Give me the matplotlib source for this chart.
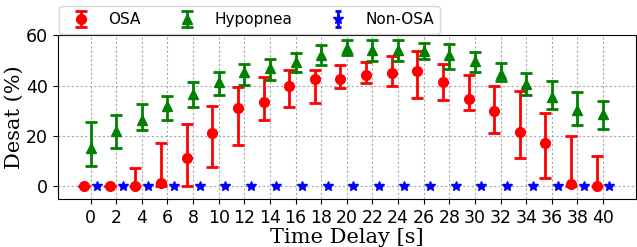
import numpy as np
import matplotlib
matplotlib.use('Agg')
import matplotlib.pyplot as plt

delays = np.arange(0, 42, 2)

osa_mean = [0, 0, 0, 1.3, 11.3, 21.3, 30.9, 33.3, 40.0, 42.7, 42.7,
            44.0, 45.0, 45.6, 41.6, 34.7, 29.9, 21.7, 17.1, 0.9, 0.3]
osa_low = [0, 0, 0, 0, 0, 7.9, 16.5, 26.3, 31.5, 32.9, 39.2,
           41.0, 39.9, 34.9, 34.4, 30.4, 21.2, 11.3, 3.3, 0, 0]
osa_high = [0, 0, 7.3, 17.3, 24.8, 32.0, 39.3, 43.3, 46.3, 46.3, 48.0,
            49.2, 51.7, 53.6, 48.7, 44.0, 40.0, 38.0, 29.1, 19.9, 12.0]

hyp_mean = [15.3, 22.0, 26.4, 32.0, 36.7, 41.3, 45.3, 46.9, 49.3, 52.0, 54.7,
            54.0, 54.0, 53.6, 52.0, 49.7, 44.7, 40.7, 35.3, 30.3, 28.7]
hyp_low = [8.0, 15.3, 22.3, 26.3, 31.6, 36.4, 40.4, 42.3, 45.3, 48.0, 52.0,
           49.7, 49.9, 50.4, 46.7, 45.2, 41.9, 36.4, 30.7, 24.4, 22.9]
hyp_high = [25.6, 28.3, 32.7, 36.0, 41.3, 45.3, 48.7, 50.7, 52.8, 56.0, 58.0,
            58.0, 57.9, 56.7, 56.4, 53.3, 49.1, 44.9, 41.9, 37.5, 33.7]

non_mean = [0] * len(delays)


def asym(mean, low, high):
    mean = np.array(mean)
    return [mean - np.array(low), np.array(high) - mean]


fig, ax = plt.subplots(figsize=(6.37, 2.47), dpi=100)
fig.subplots_adjust(left=0.091, right=0.998, bottom=0.194, top=0.858)

kw = dict(linestyle='none', elinewidth=2, capthick=2)
ax.errorbar(delays - 0.5, osa_mean, yerr=asym(osa_mean, osa_low, osa_high),
            fmt='o', color='red', label='OSA', markersize=7, capsize=4, **kw)
ax.errorbar(delays, hyp_mean, yerr=asym(hyp_mean, hyp_low, hyp_high),
            fmt='^', color='green', label='Hypopnea', markersize=7, capsize=4, **kw)
ax.errorbar(delays + 0.5, non_mean, yerr=np.zeros(len(delays)),
            fmt='*', color='blue', label='Non-OSA', markersize=7, capsize=2.5, **kw)

ax.set_xticks(delays)
ax.set_yticks([0, 20, 40, 60])
ax.set_ylim(-5, 60)
ax.tick_params(labelsize=12.5)
ax.grid(True, linestyle=(0, (2, 2)), color='darkgray', linewidth=0.8)
ax.set_xlabel('Time Delay [s]', family='DejaVu Serif', fontsize=15, labelpad=1)
ax.set_ylabel('Desat (%)', family='DejaVu Serif', fontsize=15, labelpad=2)
ax.legend(loc='lower left', bbox_to_anchor=(0, 1.0), ncol=3, fontsize=11,
          borderaxespad=0.1)

fig.savefig('out.png', dpi=100)
